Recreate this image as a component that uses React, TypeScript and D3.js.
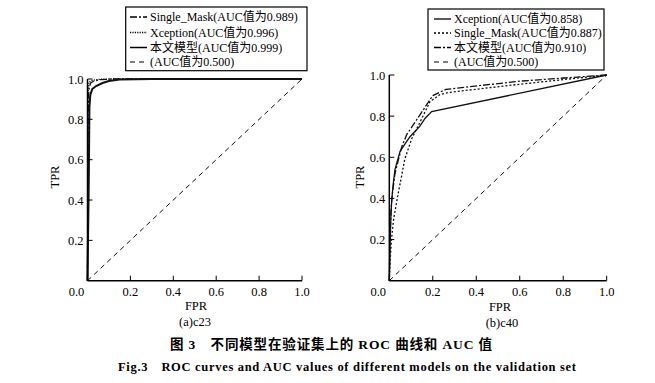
import React from "react";
import * as d3 from "d3";

type Pt = [number, number];

// Panel (a) c23
const aSingleMask: Pt[] = [[0,0],[0.002,0.5],[0.004,0.9],[0.008,0.96],[0.015,0.98],[0.03,0.99],[0.06,0.997],[0.12,1],[1,1]];
const aXception: Pt[] = [[0,0],[0.001,0.6],[0.003,0.95],[0.007,0.985],[0.02,0.993],[0.05,0.998],[0.1,1],[1,1]];
const aOurs: Pt[] = [[0,0],[0.006,0.5],[0.009,0.86],[0.013,0.92],[0.022,0.95],[0.04,0.965],[0.07,0.98],[0.1,0.99],[0.15,0.998],[0.3,1],[1,1]];
const baseline: Pt[] = [[0,0],[1,1]];

// Panel (b) c40
const bXception: Pt[] = [[0,0],[0.003,0.15],[0.007,0.3],[0.011,0.39],[0.018,0.47],[0.026,0.54],[0.05,0.63],[0.095,0.7],[0.14,0.75],[0.165,0.79],[0.195,0.822],[1,1]];
const bSingleMask: Pt[] = [[0,0],[0.004,0.1],[0.01,0.2],[0.02,0.3],[0.03,0.36],[0.041,0.425],[0.055,0.5],[0.071,0.59],[0.087,0.64],[0.103,0.69],[0.141,0.77],[0.187,0.87],[0.233,0.905],[0.27,0.915],[0.6,0.955],[1,1]];
const bOurs: Pt[] = [[0,0],[0.003,0.2],[0.008,0.35],[0.015,0.43],[0.026,0.52],[0.04,0.58],[0.057,0.65],[0.08,0.71],[0.11,0.757],[0.156,0.83],[0.2,0.9],[0.26,0.93],[0.6,0.97],[1,1]];

const tickValues = [0.2, 0.4, 0.6, 0.8, 1.0];
const legendA = ["Single_Mask(AUC值为0.989)", "Xception(AUC值为0.996)", "本文模型(AUC值为0.999)", "(AUC值为0.500)"];
const legendB = ["Xception(AUC值为0.858)", "Single_Mask(AUC值为0.887)", "本文模型(AUC值为0.910)", "(AUC值为0.500)"];

const FONT = "'Liberation Serif', 'Times New Roman', 'Noto Sans CJK SC', serif";

type Series = { data: Pt[]; dash: string; width: number };

function Panel(props: {
  x0: number; x1: number; y0: number; y1: number;
  series: Series[]; legend: string[];
  lg: { x: number; y: number; w: number; h: number; rows: number[]; tx: number; sx0: number; sx1: number };
  tpr: [number, number]; fpr: [number, number]; sub: [number, number]; subText: string;
}) {
  const { x0, x1, y0, y1, series, legend, lg } = props;
  const x = d3.scaleLinear().domain([0, 1]).range([x0, x1]);
  const y = d3.scaleLinear().domain([0, 1]).range([y0, y1]);
  const line = d3.line<Pt>().x((d) => x(d[0])).y((d) => y(d[1]));
  return (
    <g fontFamily={FONT} fontSize={12.5} fill="#000">
      {series.map((s, i) => (
        <path key={i} d={line(s.data) || ""} fill="none" stroke="#111" strokeWidth={s.width} strokeDasharray={s.dash} />
      ))}
      <line x1={x0} x2={x0} y1={y0} y2={y1} stroke="#000" strokeWidth={1.5} />
      <line x1={x0} x2={x1} y1={y0} y2={y0} stroke="#000" strokeWidth={1.5} />
      {tickValues.map((t) => (
        <g key={"x" + t}>
          <line x1={x(t)} x2={x(t)} y1={y0} y2={y0 - 5} stroke="#000" strokeWidth={1} />
          <text x={x(t)} y={y0 + 15} textAnchor="middle">{t.toFixed(1)}</text>
          <line x1={x0} x2={x0 + 5} y1={y(t)} y2={y(t)} stroke="#000" strokeWidth={1} />
          <text x={x0 - 4} y={y(t) + 4.5} textAnchor="end">{t.toFixed(1)}</text>
        </g>
      ))}
      <text x={x0 - 11} y={y0 + 15} textAnchor="middle">0.0</text>
      <text transform={`translate(${props.tpr[0]},${props.tpr[1]}) rotate(-90)`} textAnchor="middle" dy="0.35em">TPR</text>
      <text x={props.fpr[0]} y={props.fpr[1]} textAnchor="middle" dy="0.35em">FPR</text>
      <text x={props.sub[0]} y={props.sub[1]} textAnchor="middle" dy="0.35em">{props.subText}</text>
      <rect x={lg.x} y={lg.y} width={lg.w} height={lg.h} fill="#fff" stroke="#000" strokeWidth={1.2} />
      {legend.map((t, i) => (
        <g key={t}>
          <line x1={lg.sx0} x2={lg.sx1} y1={lg.rows[i]} y2={lg.rows[i]} stroke="#000"
            strokeWidth={Math.min(series[i].width, 1.5)} strokeDasharray={series[i].dash} />
          <text x={lg.tx} y={lg.rows[i]} dy="0.35em" fontSize={12}>{t}</text>
        </g>
      ))}
    </g>
  );
}

export default function App() {
  return (
    <svg width={655} height={383} style={{ position: "absolute", left: 0, top: 0, background: "#fff" }}>
      <rect width={655} height={383} fill="#fff" />
      <Panel
        x0={87.5} x1={302} y0={280.7} y1={79}
        series={[
          { data: aSingleMask, dash: "7,2,2,2", width: 1.3 },
          { data: aXception, dash: "1.2,1.2", width: 1.3 },
          { data: aOurs, dash: "", width: 2 },
          { data: baseline, dash: "5,4", width: 1 },
        ]}
        legend={legendA}
        lg={{ x: 125.7, y: 7, w: 181.3, h: 63.7, rows: [17, 32.5, 47.5, 62], tx: 150, sx0: 130, sx1: 147 }}
        tpr={[55, 177]} fpr={[196, 306]} sub={[195, 322]} subText="(a)c23"
      />
      <Panel
        x0={389.3} x1={606.7} y0={280.7} y1={75}
        series={[
          { data: bXception, dash: "", width: 1.3 },
          { data: bSingleMask, dash: "2,2", width: 1.3 },
          { data: bOurs, dash: "7,2,2,2", width: 1.3 },
          { data: baseline, dash: "5,4", width: 1 },
        ]}
        legend={legendB}
        lg={{ x: 428, y: 9, w: 176, h: 61, rows: [19, 33, 47.5, 62], tx: 454, sx0: 434, sx1: 451 }}
        tpr={[360, 177]} fpr={[500, 307]} sub={[502, 323]} subText="(b)c40"
      />
      <text x={331} y={349} textAnchor="middle" fontFamily={FONT} fontWeight="bold" fontSize={13.5}
        textLength={322} lengthAdjust="spacing">图 3　不同模型在验证集上的 ROC 曲线和 AUC 值</text>
      <text x={347} y={371} textAnchor="middle" fontFamily={FONT} fontWeight="bold" fontSize={12.5}
        textLength={458} lengthAdjust="spacing">Fig.3　ROC curves and AUC values of different models on the validation set</text>
    </svg>
  );
}
